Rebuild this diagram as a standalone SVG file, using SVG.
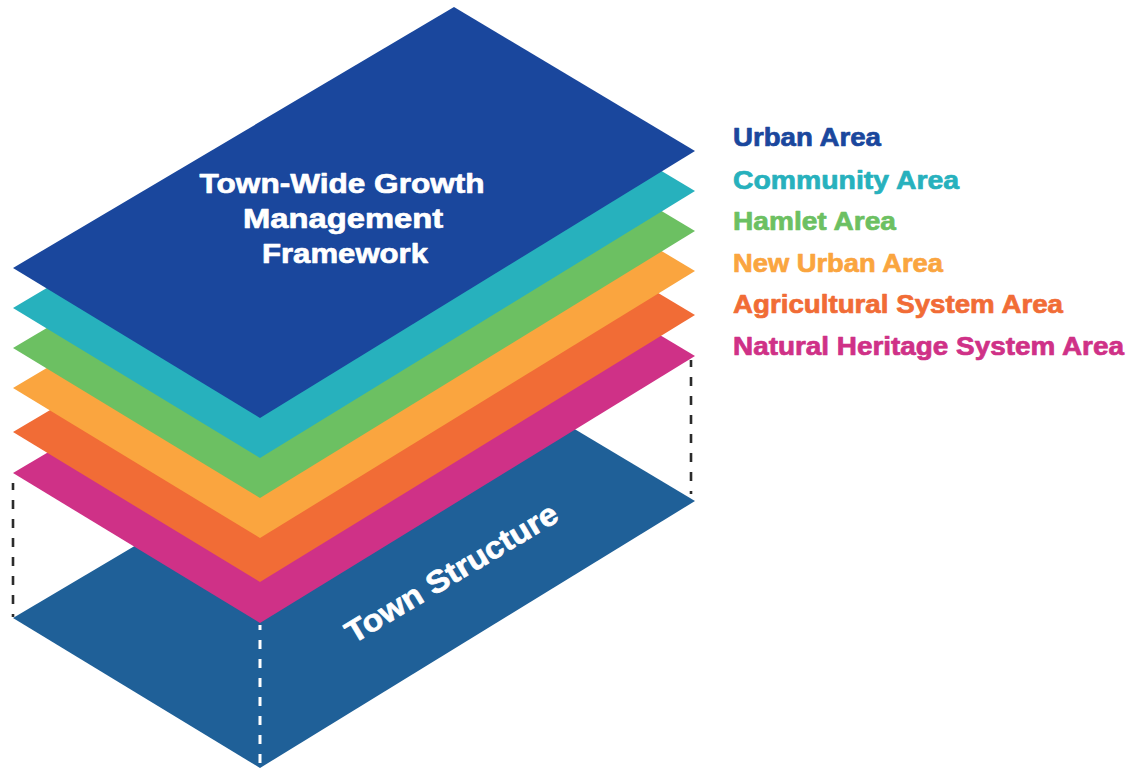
<svg xmlns="http://www.w3.org/2000/svg" width="1133" height="768" viewBox="0 0 1133 768">
  <style>
    .lbl { font-family: "Liberation Sans", Arial, sans-serif; font-weight: bold; stroke-width: 0.7; stroke-linejoin: round; }
    .white { fill: #ffffff; stroke: #ffffff; }
    .legend { font-size: 25px; }
    .dash-dark { stroke: #2b2b2b; stroke-width: 2.6; stroke-dasharray: 9 10; fill: none; }
    .dash-white { stroke: #ffffff; stroke-width: 3; stroke-dasharray: 9 10; fill: none; }
  </style>
  <rect width="1133" height="768" fill="#ffffff"/>

  <g id="town-structure">
    <polygon points="454,357 695,501 260,768 13,618" fill="#1F6098"/>
    <text class="lbl white" x="457" y="582" font-size="31" text-anchor="middle" textLength="242" lengthAdjust="spacingAndGlyphs" transform="rotate(-31 457 582)">Town Structure</text>
  </g>

  <g id="connectors">
    <line class="dash-dark" x1="13" y1="483" x2="13" y2="617" stroke-dashoffset="2"/>
    <line class="dash-dark" x1="691" y1="360" x2="691" y2="494" stroke-dashoffset="2"/>
    <line class="dash-white" x1="260" y1="625" x2="260" y2="768" stroke-dashoffset="4"/>
  </g>

  <g id="natural-heritage-layer">
    <polygon points="454,212 695,356 260,623 13,473" fill="#CF3187"/>
  </g>
  <g id="agricultural-layer">
    <polygon points="454,171 695,315 260,582 13,432" fill="#F16C36"/>
  </g>
  <g id="new-urban-layer">
    <polygon points="454,127 695,271 260,538 13,388" fill="#FAA53F"/>
  </g>
  <g id="hamlet-layer">
    <polygon points="454,87 695,231 260,498 13,348" fill="#6CC062"/>
  </g>
  <g id="community-layer">
    <polygon points="454,47 695,191 260,458 13,308" fill="#27B1BD"/>
  </g>
  <g id="urban-layer">
    <polygon points="454,7 695,151 260,418 13,268" fill="#1A479D"/>
    <text class="lbl white" font-size="28" text-anchor="middle">
      <tspan x="346" y="193" textLength="285" lengthAdjust="spacingAndGlyphs">Town-Wide Growth</tspan>
      <tspan x="347" y="228" textLength="200" lengthAdjust="spacingAndGlyphs">Management</tspan>
      <tspan x="345" y="263" textLength="166" lengthAdjust="spacingAndGlyphs">Framework</tspan>
    </text>
  </g>

  <g id="legend">
    <text class="lbl legend" x="733" y="146" fill="#1A479D" stroke="#1A479D" textLength="148" lengthAdjust="spacingAndGlyphs">Urban Area</text>
    <text class="lbl legend" x="733" y="189" fill="#27B1BD" stroke="#27B1BD" textLength="226" lengthAdjust="spacingAndGlyphs">Community Area</text>
    <text class="lbl legend" x="733" y="230" fill="#6CC062" stroke="#6CC062" textLength="163" lengthAdjust="spacingAndGlyphs">Hamlet Area</text>
    <text class="lbl legend" x="733" y="272" fill="#FAA53F" stroke="#FAA53F" textLength="210" lengthAdjust="spacingAndGlyphs">New Urban Area</text>
    <text class="lbl legend" x="733" y="313" fill="#F16C36" stroke="#F16C36" textLength="330" lengthAdjust="spacingAndGlyphs">Agricultural System Area</text>
    <text class="lbl legend" x="733" y="355" fill="#CF3187" stroke="#CF3187" textLength="391" lengthAdjust="spacingAndGlyphs">Natural Heritage System Area</text>
  </g>
</svg>
